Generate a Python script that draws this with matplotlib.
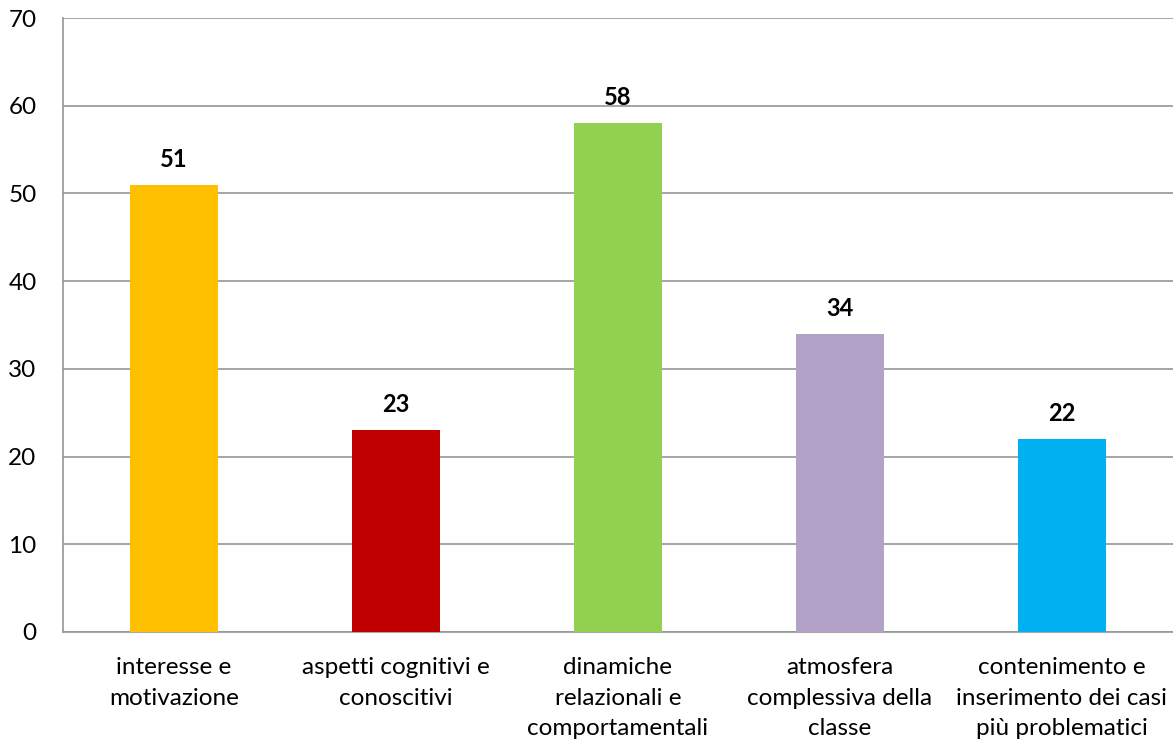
import matplotlib
matplotlib.use("Agg")
import matplotlib.pyplot as plt

categories = ["interesse e\nmotivazione", "aspetti cognitivi e\nconoscitivi",
              "dinamiche\nrelazionali e\ncomportamentali",
              "atmosfera\ncomplessiva della\nclasse",
              "contenimento e\ninserimento dei casi\npiù problematici"]
values = [51, 23, 58, 34, 22]
colors = ["#FFC000", "#C00000", "#92D050", "#B2A2C7", "#00B0F0"]
yticks = [0, 10, 20, 30, 40, 50, 60, 70]

plt.rcParams['font.family'] = ['Lato', 'DejaVu Sans']

fig = plt.figure(figsize=(11.73, 7.46), dpi=100)
ax = fig.add_axes([63/1173, 1-632/746, 1-63/1173, (632-18)/746])

x = list(range(len(values)))
bars = ax.bar(x, values, width=0.4, color=colors, zorder=3)
for xi, v in zip(x, values):
    ax.annotate(str(v), (xi, v), xytext=(0, 10), textcoords="offset points",
                ha="center", va="bottom", fontsize=17, fontweight="bold", color="black")

ax.set_xlim(-0.5, len(values) - 0.5)
ax.set_ylim(0, 70)
ax.set_yticks(yticks)
ax.set_xticks(x)
ax.set_xticklabels(categories, fontsize=17.5, linespacing=1.57, va="top")
ax.tick_params(axis='y', labelsize=17.5, length=0, pad=19)
ax.tick_params(axis='x', length=0, pad=18)
ax.grid(axis='y', color='#969696', linewidth=1.2, zorder=0)
for s in ['top', 'right']:
    ax.spines[s].set_visible(False)
for s in ['left', 'bottom']:
    ax.spines[s].set_color('#969696')
    ax.spines[s].set_linewidth(1.2)
for lbl in ax.get_yticklabels():
    lbl.set_horizontalalignment('right')

fig.savefig("out.png", dpi=100)
